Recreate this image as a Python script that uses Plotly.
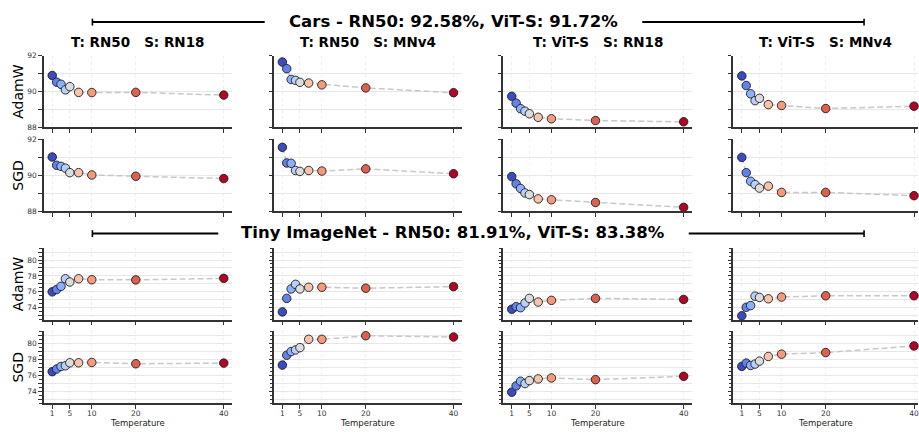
import plotly.graph_objects as go

# ---------------- data ----------------
temps = [1, 2, 3, 4, 5, 7, 10, 20, 40]
xtick_vals = [1, 5, 10, 20, 40]

col_titles = ["T: RN50   S: RN18", "T: RN50   S: MNv4", "T: ViT-S   S: RN18", "T: ViT-S   S: MNv4"]
row_labels = ["AdamW", "SGD", "AdamW", "SGD"]
section_titles = ["Cars - RN50: 92.58%, ViT-S: 91.72%",
                  "Tiny ImageNet - RN50: 81.91%, ViT-S: 83.38%"]

cars_adamw = [
    [90.89, 90.52, 90.40, 90.09, 90.27, 89.95, 89.94, 89.95, 89.80],
    [91.64, 91.27, 90.67, 90.62, 90.51, 90.47, 90.37, 90.20, 89.93],
    [89.73, 89.35, 89.04, 88.90, 88.76, 88.56, 88.48, 88.38, 88.31],
    [90.87, 90.33, 89.87, 89.49, 89.62, 89.27, 89.22, 89.05, 89.18],
]
cars_sgd = [
    [91.02, 90.56, 90.50, 90.40, 90.15, 90.15, 90.02, 89.95, 89.82],
    [91.56, 90.69, 90.67, 90.27, 90.22, 90.27, 90.24, 90.36, 90.09],
    [89.93, 89.53, 89.27, 89.02, 88.93, 88.69, 88.64, 88.49, 88.22],
    [91.00, 90.15, 89.67, 89.49, 89.29, 89.40, 89.05, 89.05, 88.87],
]
tiny_adamw = [
    [75.99, 76.28, 76.69, 77.64, 77.23, 77.64, 77.52, 77.50, 77.69],
    [73.47, 75.17, 76.36, 76.94, 76.36, 76.57, 76.57, 76.45, 76.65],
    [73.80, 74.13, 74.00, 74.59, 75.17, 74.71, 74.92, 75.17, 75.04],
    [72.98, 74.05, 74.26, 75.45, 75.29, 75.12, 75.33, 75.50, 75.50],
]
tiny_sgd = [
    [76.45, 76.78, 77.10, 77.19, 77.56, 77.56, 77.60, 77.44, 77.52],
    [77.27, 78.51, 78.97, 79.17, 79.46, 80.50, 80.50, 80.95, 80.79],
    [73.88, 74.67, 75.25, 74.96, 75.33, 75.54, 75.66, 75.45, 75.87],
    [77.11, 77.52, 77.23, 77.40, 77.77, 78.35, 78.64, 78.84, 79.67],
]

# coolwarm samples, one per temperature
point_colors = ["#3b4cc0", "#6282ea", "#8db0fe", "#b8d0f9", "#dddcdc",
                "#f5c4ac", "#f49a7b", "#de604d", "#b40426"]

# ---------------- layout geometry (pixels) ----------------
W, H = 919, 432
FONT = "DejaVu Sans"
col_left = [43.7, 274.1, 503.7, 734.0]
col_right = [232.6, 462.6, 693.0, 919.0]
x_ranges = [[-0.95, 41.95], [-0.95, 41.95], [-0.95, 41.95], [-0.95, 40.9]]
row_top = [52.7, 138.3, 249.3, 334.3]
row_bot = [126.0, 211.7, 322.3, 407.7]

rows_data = [cars_adamw, cars_sgd, tiny_adamw, tiny_sgd]

def px(x):
    return x / W

def py(y):
    return 1 - y / H

fig = go.Figure()
layout = {}

for r in range(4):
    for c in range(4):
        k = r * 4 + c + 1
        xa = "x" if k == 1 else f"x{k}"
        ya = "y" if k == 1 else f"y{k}"
        fig.add_trace(go.Scatter(
            x=temps, y=rows_data[r][c], xaxis=xa, yaxis=ya,
            mode="lines+markers", showlegend=False, cliponaxis=False,
            line=dict(color="#c8c8c8", width=1.5, dash="6px,3px"),
            marker=dict(color=point_colors, size=8.5,
                        line=dict(color="#1e1e1e", width=0.9)),
        ))
        xkey = "xaxis" if k == 1 else f"xaxis{k}"
        ykey = "yaxis" if k == 1 else f"yaxis{k}"
        layout[xkey] = dict(
            domain=[px(col_left[c]), px(col_right[c])], anchor=ya,
            range=x_ranges[c], tickmode="array", tickvals=xtick_vals,
            ticktext=[str(v) for v in xtick_vals], showticklabels=(r == 3),
            ticks="outside", ticklen=3.5, tickwidth=1, tickcolor="#333",
            ticklabelstandoff=-2, ticklabeloverflow="allow",
            showline=True, linecolor="#333", linewidth=1.6,
            showgrid=True, gridcolor="#efefef", griddash="dot", gridwidth=1,
            zeroline=False, tickfont=dict(family=FONT, size=7.5, color="#333"),
        )
        if r < 2:
            tv = [88, 89, 90, 91, 92]
            tt = [str(v) if v % 2 == 0 else "" for v in tv]
            yr = [88, 92]
            minor = None
        else:
            tv = list(range(73, 82))
            tt = [str(v) if v % 2 == 0 else "" for v in tv]
            yr = [72.5, 81.5]
            minor = dict(dtick=0.5, tick0=0, ticks="outside", ticklen=2.5,
                         tickcolor="#333", showgrid=False)
        yd = dict(
            domain=[py(row_bot[r]), py(row_top[r])], anchor=xa,
            range=yr, tickmode="array", tickvals=tv, ticktext=tt,
            showticklabels=(c == 0),
            ticks="outside", ticklen=3.5, tickwidth=1, tickcolor="#333",
            showline=True, linecolor="#333", linewidth=1.6,
            showgrid=True, gridcolor="#e7e7e7", gridwidth=1.2,
            zeroline=False, tickfont=dict(family=FONT, size=7.5, color="#333"),
        )
        if minor:
            yd["minor"] = minor
        layout[ykey] = yd

annotations = []
shapes = []

# section titles with bracket lines
sec_y = [18.5, 234.5]
sec_lines = [((92.5, 265.0), (643.0, 865.0)), ((92.5, 218.5), (689.5, 865.0))]
for i, t in enumerate(section_titles):
    annotations.append(dict(
        x=px(453.7), y=py(sec_y[i] - 1.0), xref="paper", yref="paper",
        text=t, showarrow=False, xanchor="center", yanchor="middle",
        font=dict(family=FONT, size=16.5, color="black", weight="bold"),
    ))
    (l0, l1), (r0, r1) = sec_lines[i]
    yy = py(sec_y[i])
    for (a, b) in [(l0, l1), (r0, r1)]:
        shapes.append(dict(type="line", xref="paper", yref="paper",
                           x0=px(a), x1=px(b), y0=yy, y1=yy,
                           line=dict(color="black", width=2)))
    for cx in (l0, r1):
        shapes.append(dict(type="line", xref="paper", yref="paper",
                           x0=px(cx), x1=px(cx), y0=py(sec_y[i] - 3.5), y1=py(sec_y[i] + 3.5),
                           line=dict(color="black", width=1.6)))

# column titles
for c, t in enumerate(col_titles):
    annotations.append(dict(
        x=px((col_left[c] + min(col_right[c], col_left[c] + 189)) / 2), y=py(39.0),
        xref="paper", yref="paper", text=t.replace(" ", "\u00a0"), showarrow=False,
        xanchor="center", yanchor="middle",
        font=dict(family=FONT, size=13.5, color="black", weight="bold"),
    ))

# row labels
for r, t in enumerate(row_labels):
    annotations.append(dict(
        x=px(18.3), y=py((row_top[r] + row_bot[r]) / 2), xref="paper", yref="paper",
        text=t, showarrow=False, textangle=-90, xanchor="center", yanchor="middle",
        font=dict(family=FONT, size=14, color="black"),
    ))

# x axis titles
for c in range(4):
    annotations.append(dict(
        x=px((col_left[c] + min(col_right[c], col_left[c] + 189)) / 2), y=0,
        xref="paper", yref="paper", text="Temperature", showarrow=False,
        xanchor="center", yanchor="bottom", yshift=-2, borderpad=0,
        font=dict(family=FONT, size=8.5, color="#222"),
    ))

fig.update_layout(
    width=W, height=H, margin=dict(l=0, r=0, t=0, b=0),
    paper_bgcolor="white", plot_bgcolor="white",
    font=dict(family=FONT), annotations=annotations, shapes=shapes,
    **layout,
)

page_fix = (
    "document.documentElement.style.margin='0';"
    "document.documentElement.style.padding='0';"
    "document.body.style.margin='0';document.body.style.padding='0';"
    "document.body.style.overflow='hidden';"
    "var gd=document.getElementById('{plot_id}');"
    "gd.style.position='absolute';gd.style.left='0px';gd.style.top='0px';"
)

fig.write_html("out.html", post_script=page_fix, config={"displayModeBar": False})
